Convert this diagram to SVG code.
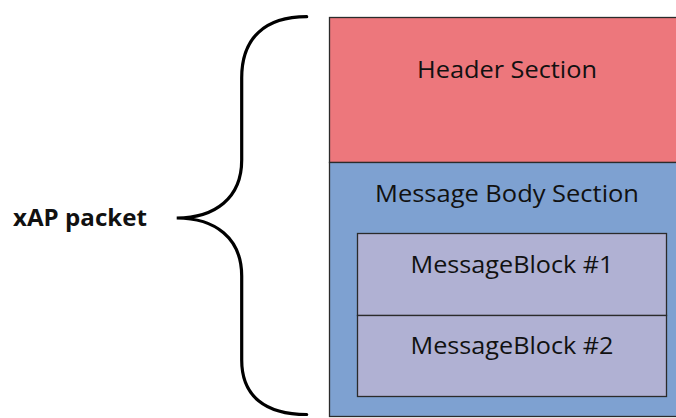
<svg xmlns="http://www.w3.org/2000/svg" width="676" height="418" viewBox="0 0 676 418">
  <style>
    .sec { stroke: #2b2b2b; stroke-width: 1.3; }
    .lbl { font-family: "Open Sans", "Liberation Sans", sans-serif; font-size: 23.5px; fill: #111; text-anchor: middle; }
    .brace { fill: none; stroke: #000; stroke-width: 3.2; stroke-linecap: round; }
  </style>
  <rect width="676" height="418" fill="#fff"/>

  <g id="header-section">
    <rect class="sec" x="329.5" y="17.5" width="356" height="145" fill="#ED777C"/>
    <text class="lbl" x="507" y="78" textLength="180" lengthAdjust="spacingAndGlyphs">Header Section</text>
  </g>

  <g id="message-body-section">
    <rect class="sec" x="329.5" y="162.5" width="356" height="254" fill="#7EA1D1"/>
    <text class="lbl" x="507" y="201.5" textLength="264" lengthAdjust="spacingAndGlyphs">Message Body Section</text>
  </g>

  <g id="message-block-1">
    <rect class="sec" x="357.5" y="233.5" width="309" height="82" fill="#B0B1D3"/>
    <text class="lbl" x="512" y="272.5" textLength="203" lengthAdjust="spacingAndGlyphs">MessageBlock #1</text>
  </g>

  <g id="message-block-2">
    <rect class="sec" x="357.5" y="315.5" width="309" height="81" fill="#B0B1D3"/>
    <text class="lbl" x="512" y="354" textLength="203" lengthAdjust="spacingAndGlyphs">MessageBlock #2</text>
  </g>

  <g id="xap-packet">
    <text x="80" y="225.5" font-family="'Open Sans', 'Liberation Sans', sans-serif" font-size="23" font-weight="bold" fill="#111" text-anchor="middle" textLength="134" lengthAdjust="spacingAndGlyphs">xAP packet</text>
  </g>

  <g id="connectors">
    <!-- curly brace grouping the whole packet -->
    <path class="brace" d="M306.7,16.7 C265,16.7 241.7,38 241.7,78 L241.7,160 C241.7,198 215,218 176.7,218 C215,218 241.7,238 241.7,276 L241.7,360 C241.7,396 265,414.5 306.7,414.5"/>
  </g>
</svg>
